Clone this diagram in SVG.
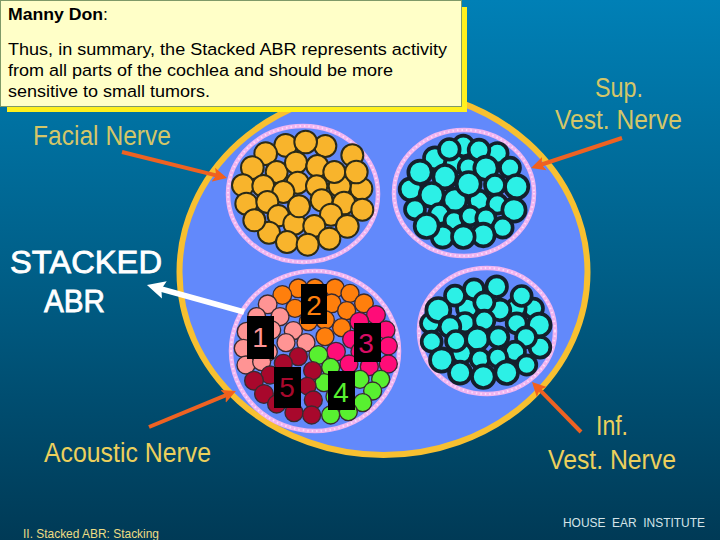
<svg xmlns="http://www.w3.org/2000/svg" width="720" height="540" viewBox="0 0 720 540">
<style>
.fn{font-family:"Liberation Sans",Arial,sans-serif}
.lab{font-size:27.5px;fill:#d4c668}
.lab2{font-size:27.5px;fill:#ecd05c}
.big{font-size:31px;fill:#fff;stroke:#fff;stroke-width:.8}
.note{font-size:16.800px;fill:#000}
.dig{font-size:28px;text-anchor:middle}
.small{font-size:13px}
.ring{fill:#6289fb;stroke:#f0b4f0;stroke-width:4.500}
.dots{fill:none;stroke:#fbdcfb;stroke-width:2;stroke-dasharray:1.500 3}
.f circle{fill:#f8b42c;stroke:#2a2a18;stroke-width:6}
.c circle{fill:#2cf0e6;stroke:#14202c;stroke-width:11}
.a circle{stroke:#3a2a30;stroke-width:4}
.or{fill:#ff7f0c}.sa{fill:#ff9494}.ma{fill:#ff0c78}.gr{fill:#58f030}.dr{fill:#a8082c}
.box{fill:#000}
.arr{stroke:#ee6222;stroke-width:4;fill:none;marker-end:url(#oh)}
.warr{stroke:#fff;stroke-width:5.500;fill:none;marker-end:url(#wh)}
</style>
<defs>
<linearGradient id="bg" x1="0" y1="0" x2="0" y2="1">
<stop offset="0" stop-color="#0080b6"/>
<stop offset="0.5" stop-color="#005f88"/>
<stop offset="1" stop-color="#003a56"/>
</linearGradient>
<marker id="oh" markerUnits="userSpaceOnUse" markerWidth="16" markerHeight="16" viewBox="0 0 16 16" refX="6" refY="8" orient="auto"><path d="M0,1 L14,8 L0,15 L3,8 Z" fill="#f2601c"/></marker>
<marker id="wh" markerUnits="userSpaceOnUse" markerWidth="20" markerHeight="22" viewBox="0 0 20 22" refX="8" refY="11" orient="auto"><path d="M0,2 L18,11 L0,20 L3,11 Z" fill="#fff"/></marker>
</defs>
<rect width="720" height="540" fill="url(#bg)"/>
<ellipse id="nerve-trunk" cx="383.500" cy="272" rx="204" ry="183" fill="#6289fb" stroke="#f8c030" stroke-width="6"/>

<g id="facial-nerve">
<ellipse class="ring" cx="303" cy="194" rx="75" ry="68"/>
<ellipse class="dots" cx="303" cy="194" rx="75" ry="68"/>
<g class="f" transform="translate(225 122) scale(.3333)">
<circle cx="382" cy="100" r="33"/><circle cx="301" cy="72" r="33"/><circle cx="182" cy="70" r="34"/><circle cx="242" cy="60" r="34"/><circle cx="122" cy="95" r="34"/><circle cx="82" cy="137" r="34"/><circle cx="155" cy="150" r="33"/><circle cx="213" cy="122" r="33"/><circle cx="277" cy="132" r="33"/><circle cx="409" cy="200" r="33"/><circle cx="344" cy="192" r="33"/><circle cx="328" cy="150" r="33"/><circle cx="394" cy="150" r="34"/><circle cx="54" cy="190" r="33"/><circle cx="115" cy="192" r="33"/><circle cx="218" cy="182" r="33"/><circle cx="275" cy="192" r="32"/><circle cx="175" cy="210" r="33"/><circle cx="290" cy="235" r="33"/><circle cx="357" cy="243" r="34"/><circle cx="412" cy="263" r="33"/><circle cx="64" cy="245" r="33"/><circle cx="127" cy="240" r="33"/><circle cx="318" cy="278" r="33"/><circle cx="160" cy="281" r="32"/><circle cx="132" cy="332" r="33"/><circle cx="88" cy="295" r="33"/><circle cx="208" cy="305" r="33"/><circle cx="222" cy="253" r="33"/><circle cx="367" cy="313" r="34"/><circle cx="268" cy="312" r="33"/><circle cx="313" cy="350" r="33"/><circle cx="186" cy="360" r="33"/><circle cx="248" cy="368" r="33"/>
</g>
</g>

<g id="sup-vest-nerve">
<ellipse class="ring" cx="464" cy="193" rx="70" ry="63"/>
<ellipse class="dots" cx="464" cy="193" rx="70" ry="63"/>
<g class="c" transform="translate(360 60) scale(.3333)">
<circle cx="310" cy="258" r="31"/><circle cx="225" cy="295" r="33"/><circle cx="412" cy="280" r="31"/><circle cx="284" cy="310" r="29"/><circle cx="325" cy="322" r="29"/><circle cx="152" cy="388" r="33"/><circle cx="180" cy="337" r="35"/><circle cx="268" cy="268" r="31"/><circle cx="357" cy="270" r="31"/><circle cx="450" cy="323" r="30"/><circle cx="378" cy="325" r="35"/><circle cx="255" cy="350" r="35"/><circle cx="470" cy="380" r="35"/><circle cx="405" cy="375" r="30"/><circle cx="215" cy="405" r="36"/><circle cx="285" cy="420" r="35"/><circle cx="357" cy="422" r="30"/><circle cx="165" cy="448" r="30"/><circle cx="326" cy="372" r="36"/><circle cx="412" cy="432" r="29"/><circle cx="462" cy="450" r="35"/><circle cx="238" cy="462" r="30"/><circle cx="282" cy="482" r="28"/><circle cx="330" cy="468" r="28"/><circle cx="378" cy="475" r="29"/><circle cx="428" cy="503" r="30"/><circle cx="248" cy="530" r="33"/><circle cx="200" cy="498" r="36"/><circle cx="370" cy="525" r="34"/><circle cx="310" cy="530" r="34"/>
</g>
</g>

<g id="inf-vest-nerve">
<ellipse class="ring" cx="487" cy="331" rx="68" ry="63"/>
<ellipse class="dots" cx="487" cy="331" rx="68" ry="63"/>
<g class="c" transform="translate(400 260) scale(.3333)">
<circle cx="92" cy="190" r="29"/><circle cx="400" cy="145" r="29"/><circle cx="348" cy="145" r="29"/><circle cx="300" cy="150" r="31"/><circle cx="202" cy="145" r="31"/><circle cx="165" cy="107" r="30"/><circle cx="222" cy="88" r="30"/><circle cx="290" cy="80" r="31"/><circle cx="115" cy="150" r="36"/><circle cx="365" cy="108" r="30"/><circle cx="253" cy="127" r="30"/><circle cx="418" cy="195" r="34"/><circle cx="350" cy="190" r="30"/><circle cx="195" cy="188" r="29"/><circle cx="150" cy="200" r="31"/><circle cx="253" cy="182" r="30"/><circle cx="95" cy="245" r="30"/><circle cx="420" cy="262" r="31"/><circle cx="232" cy="237" r="34"/><circle cx="185" cy="280" r="30"/><circle cx="168" cy="243" r="30"/><circle cx="295" cy="232" r="30"/><circle cx="378" cy="232" r="30"/><circle cx="125" cy="300" r="35"/><circle cx="345" cy="275" r="30"/><circle cx="240" cy="297" r="28"/><circle cx="293" cy="292" r="28"/><circle cx="380" cy="315" r="29"/><circle cx="180" cy="338" r="33"/><circle cx="250" cy="350" r="34"/><circle cx="320" cy="338" r="34"/>
</g>
</g>

<g id="acoustic-nerve">
<ellipse class="ring" cx="315" cy="351" rx="84" ry="80"/>
<ellipse class="dots" cx="315" cy="351" rx="84" ry="80"/>
<g class="a" transform="translate(200 260) scale(.3333)">
<circle class="or" cx="295" cy="85" r="28"/><circle class="or" cx="345" cy="85" r="28"/><circle class="or" cx="405" cy="85" r="28"/><circle class="or" cx="247" cy="105" r="28"/><circle class="or" cx="450" cy="100" r="27"/><circle class="or" cx="492" cy="130" r="28"/><circle class="or" cx="285" cy="145" r="27"/><circle class="or" cx="395" cy="130" r="28"/><circle class="or" cx="440" cy="152" r="27"/><circle class="or" cx="375" cy="180" r="28"/><circle class="or" cx="325" cy="185" r="27"/><circle class="or" cx="425" cy="203" r="27"/><circle class="or" cx="375" cy="230" r="27"/>
<circle class="sa" cx="203" cy="133" r="28"/><circle class="sa" cx="170" cy="170" r="27"/><circle class="sa" cx="240" cy="170" r="27"/><circle class="sa" cx="140" cy="215" r="28"/><circle class="sa" cx="215" cy="210" r="27"/><circle class="sa" cx="280" cy="212" r="27"/><circle class="sa" cx="130" cy="265" r="27"/><circle class="sa" cx="258" cy="248" r="27"/><circle class="sa" cx="318" cy="248" r="27"/><circle class="sa" cx="205" cy="275" r="27"/><circle class="sa" cx="138" cy="315" r="27"/><circle class="sa" cx="185" cy="305" r="27"/>
<circle class="ma" cx="528" cy="165" r="28"/><circle class="ma" cx="478" cy="185" r="28"/><circle class="ma" cx="558" cy="210" r="27"/><circle class="ma" cx="455" cy="238" r="27"/><circle class="ma" cx="565" cy="258" r="27"/><circle class="ma" cx="480" cy="275" r="27"/><circle class="ma" cx="408" cy="275" r="28"/><circle class="ma" cx="565" cy="312" r="27"/><circle class="ma" cx="447" cy="312" r="27"/><circle class="ma" cx="508" cy="320" r="27"/>
<circle class="gr" cx="355" cy="285" r="28"/><circle class="gr" cx="392" cy="322" r="27"/><circle class="gr" cx="372" cy="368" r="27"/><circle class="gr" cx="480" cy="358" r="27"/><circle class="gr" cx="542" cy="358" r="27"/><circle class="gr" cx="518" cy="393" r="27"/><circle class="gr" cx="405" cy="410" r="27"/><circle class="gr" cx="488" cy="428" r="27"/><circle class="gr" cx="445" cy="455" r="27"/><circle class="gr" cx="392" cy="465" r="27"/>
<circle class="dr" cx="295" cy="290" r="27"/><circle class="dr" cx="250" cy="310" r="27"/><circle class="dr" cx="338" cy="332" r="27"/><circle class="dr" cx="210" cy="345" r="27"/><circle class="dr" cx="162" cy="362" r="28"/><circle class="dr" cx="192" cy="402" r="28"/><circle class="dr" cx="270" cy="350" r="27"/><circle class="dr" cx="322" cy="378" r="26"/><circle class="dr" cx="340" cy="420" r="27"/><circle class="dr" cx="230" cy="432" r="27"/><circle class="dr" cx="282" cy="458" r="27"/><circle class="dr" cx="335" cy="465" r="27"/>
</g>
</g>

<g id="region-1"><rect class="box" x="247" y="316" width="27" height="43"/><text class="fn dig" x="260" y="347" fill="#ff9494">1</text></g>
<g id="region-2"><rect class="box" x="301" y="284" width="26" height="40"/><text class="fn dig" x="314" y="315" fill="#ff7f0c">2</text></g>
<g id="region-3"><rect class="box" x="354" y="323" width="27" height="39"/><text class="fn dig" x="366" y="353" fill="#d80c64">3</text></g>
<g id="region-5"><rect class="box" x="274" y="367" width="27" height="41"/><text class="fn dig" x="287" y="397" fill="#a8082c">5</text></g>
<g id="region-4"><rect class="box" x="328" y="371" width="27" height="39"/><text class="fn dig" x="341" y="402" fill="#58f030">4</text></g>

<g id="connectors">
<line class="arr" x1="122" y1="152" x2="219.200" y2="176.100"/>
<line class="arr" x1="622" y1="138" x2="538.600" y2="165.500"/>
<line class="arr" x1="149" y1="427" x2="228.600" y2="394.100"/>
<line class="arr" x1="581" y1="432" x2="537.600" y2="387.700"/>
<line class="warr" x1="244" y1="312" x2="156.600" y2="287.750"/>
</g>

<g id="labels">
<text class="fn lab" x="33" y="145" textLength="138" lengthAdjust="spacingAndGlyphs">Facial Nerve</text>
<text class="fn lab" x="595" y="97" textLength="48" lengthAdjust="spacingAndGlyphs">Sup.</text>
<text class="fn lab" x="555" y="129" textLength="127" lengthAdjust="spacingAndGlyphs">Vest. Nerve</text>
<text class="fn big" x="10" y="273" textLength="152" lengthAdjust="spacingAndGlyphs">STACKED</text>
<text class="fn big" x="44" y="312" textLength="61" lengthAdjust="spacingAndGlyphs">ABR</text>
<text class="fn lab2" x="44" y="462" textLength="167" lengthAdjust="spacingAndGlyphs">Acoustic Nerve</text>
<text class="fn lab2" x="596" y="435" textLength="32" lengthAdjust="spacingAndGlyphs">Inf.</text>
<text class="fn lab2" x="548" y="469" textLength="128" lengthAdjust="spacingAndGlyphs">Vest. Nerve</text>
<text class="fn small" x="563" y="527" fill="#d4e4e8" textLength="142" lengthAdjust="spacingAndGlyphs" xml:space="preserve">HOUSE  EAR  INSTITUTE</text>
<text class="fn small" x="23" y="538" fill="#ecdc84" textLength="136" lengthAdjust="spacingAndGlyphs">II. Stacked ABR: Stacking</text>
</g>

<g id="note">
<rect x="7" y="7" width="460" height="105" fill="#fff01e"/>
<rect x="0.500" y="0.500" width="461" height="106" fill="#ffffc8" stroke="#7f9a68" stroke-width="1"/>
<text class="fn note" x="8" y="20" textLength="100" lengthAdjust="spacingAndGlyphs"><tspan font-weight="bold">Manny Don</tspan>:</text>
<text class="fn note" x="8" y="55" textLength="439" lengthAdjust="spacingAndGlyphs">Thus, in summary, the Stacked ABR represents activity</text>
<text class="fn note" x="8" y="76" textLength="385" lengthAdjust="spacingAndGlyphs">from all parts of the cochlea and should be more</text>
<text class="fn note" x="8" y="97" textLength="202" lengthAdjust="spacingAndGlyphs">sensitive to small tumors.</text>
</g>
</svg>
